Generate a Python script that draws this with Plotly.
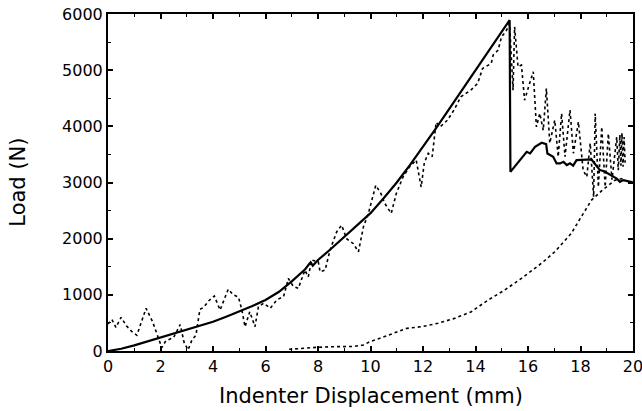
import plotly.graph_objects as go

# Solid loading curve (Load in N vs displacement in mm)
solid_x = [0, 0.5, 1, 1.5, 2, 2.5, 3, 3.5, 4, 4.5, 5, 5.5, 6, 6.5, 7, 7.5, 7.65, 7.72, 7.8, 8,
           8.5, 9, 9.5, 10, 10.5, 11, 11.5, 12, 12.5, 13, 13.5, 14, 14.5, 15, 15.3, 15.33,
           15.7, 15.95, 16.08, 16.27, 16.52, 16.69, 16.74, 16.96, 17.09, 17.22, 17.35, 17.48,
           17.6, 17.72, 17.85, 18.05, 18.24, 18.42, 18.6, 18.74, 18.9, 19.05, 19.19, 19.3,
           19.38, 19.5, 19.63, 19.75, 19.95, 20]
solid_y = [0, 40, 100, 170, 250, 315, 385, 450, 520, 610, 700, 800, 907, 1050, 1240, 1450, 1540,
           1580, 1520, 1620, 1820, 2034, 2240, 2455, 2720, 3000, 3310, 3630, 3970, 4310, 4650,
           4995, 5340, 5680, 5890, 3190, 3400, 3547, 3517, 3636, 3707, 3683, 3517, 3458, 3340,
           3340, 3368, 3310, 3340, 3300, 3398, 3405, 3410, 3410, 3300, 3220, 3200, 3160, 3130,
           3090, 3070, 3012, 3043, 3030, 3012, 3000]

# Dotted (noisy) loading record
dot_x = [0, 0.15, 0.3, 0.5, 0.7, 0.9, 1.1, 1.45, 1.7, 1.9, 2.05, 2.2, 2.5, 2.75, 2.9, 3.05, 3.2,
         3.35, 3.5, 3.65, 3.85, 4.05, 4.27, 4.58, 4.77, 4.97, 5.1, 5.22, 5.4, 5.6, 5.73, 5.93,
         6.18, 6.43, 6.69, 6.87, 7.06, 7.25, 7.5, 7.63, 7.76, 8.01, 8.08, 8.27, 8.46, 8.71, 8.9,
         9.09, 9.35, 9.54, 9.73, 9.92, 10.1, 10.2, 10.4, 10.54, 10.79, 10.98, 11.24, 11.49,
         11.74, 11.93, 12.05, 12.2, 12.35, 12.5, 12.65, 12.93, 13.18, 13.44, 13.82, 14.08,
         14.27, 14.4, 14.6, 14.67, 14.86, 14.99, 15.18, 15.3, 15.43, 15.49, 15.62, 15.75, 15.87,
         16.06, 16.2, 16.32, 16.45, 16.58, 16.7, 16.83, 17.02, 17.15, 17.28, 17.41, 17.6, 17.73,
         17.92, 18.1, 18.24, 18.37, 18.5, 18.56, 18.68, 18.81, 18.94, 19.06, 19.2, 19.38, 19.44,
         19.5, 19.54, 19.58, 19.62, 19.66, 19.7]
dot_y = [480, 560, 420, 600, 450, 350, 280, 760, 520, 250, 60, 180, 240, 470, 150, 20, 200,
         280, 740, 780, 900, 980, 730, 1100, 1000, 960, 730, 430, 700, 433, 790, 850,
         760, 910, 970, 1290, 1150, 1115, 1440, 1320, 1620, 1590, 1410, 1440, 1800, 2120, 2240,
         2000, 1910, 1765, 2210, 2450, 2800, 2950, 2800, 2630, 2450, 2800, 3100, 3280,
         3400, 2920, 3350, 3520, 3460, 4070, 3990, 4110, 4290, 4525, 4645, 4763,
         5030, 5060, 5120, 5267, 5356, 5590, 5710, 5830, 4645, 5770, 5060, 5090, 4466,
         4763, 4970, 3990, 4230, 3930, 4674, 3700, 4110, 3458, 4230, 3458, 4290, 3520,
         4080, 3220, 3100, 3700, 2745, 4230, 2920, 3990, 2920, 3870, 3050, 3810, 3220,
         3850, 3300, 3880, 3280, 3810, 3350]

# Dotted unloading record
unl_x = [6.9, 7.32, 7.95, 8.59, 9.35, 9.73, 9.98, 10.36, 10.87, 11.38, 11.94, 12.57, 13.2,
         13.84, 14.48, 15.11, 15.75, 16.51, 17.02, 17.65, 18.03, 18.42, 18.8, 19.31, 19.6]
unl_y = [30, 47, 65, 77, 80, 107, 166, 226, 315, 403, 432, 493, 581, 699, 907, 1085, 1293,
         1560, 1767, 2094, 2390, 2687, 2850, 3040, 3070]

x_ticks = [0, 2, 4, 6, 8, 10, 12, 14, 16, 18, 20]
y_ticks = [0, 1000, 2000, 3000, 4000, 5000, 6000]

fig = go.Figure()
fig.add_trace(go.Scatter(x=unl_x, y=unl_y, mode="lines",
                         line=dict(color="black", width=1.6, dash="dot"), showlegend=False))
fig.add_trace(go.Scatter(x=dot_x, y=dot_y, mode="lines",
                         line=dict(color="black", width=1.6, dash="dot"), showlegend=False))
fig.add_trace(go.Scatter(x=solid_x, y=solid_y, mode="lines",
                         line=dict(color="black", width=2.2), showlegend=False))

axis_common = dict(showgrid=False, zeroline=False, showline=True, linecolor="black",
                   linewidth=2, mirror="allticks", ticks="inside", ticklen=5,
                   tickwidth=1.5, tickcolor="black", automargin=False,
                   ticklabeloverflow="allow",
                   tickfont=dict(family="DejaVu Sans", size=16, color="black"))

fig.update_xaxes(range=[0, 20], tickvals=x_ticks, ticktext=[str(v) for v in x_ticks],
                 minor=dict(dtick=1, ticks="inside", ticklen=3, tickcolor="black", tickwidth=1.2),
                 **axis_common)
fig.update_yaxes(range=[0, 6000], tickvals=y_ticks, ticktext=[str(v) for v in y_ticks],
                 minor=dict(dtick=500, ticks="inside", ticklen=3, tickcolor="black", tickwidth=1.2),
                 **axis_common)

fig.add_annotation(text="Indenter Displacement (mm)", xref="paper", yref="paper",
                   x=0.5, y=-0.134, yanchor="middle", xanchor="center", showarrow=False,
                   font=dict(family="DejaVu Sans", size=21, color="black"))
fig.add_annotation(text="Load (N)", xref="paper", yref="paper",
                   x=-0.173, y=0.50, textangle=-90, xanchor="center", yanchor="middle",
                   showarrow=False, font=dict(family="DejaVu Sans", size=21, color="black"))

fig.update_layout(width=642, height=411, margin=dict(l=108, r=9, t=14, b=60, autoexpand=False),
                  plot_bgcolor="white", paper_bgcolor="white")

fig.write_html("out.html", config={"displayModeBar": False},
               post_script="document.body.style.margin='0';document.body.style.overflow='hidden';")
